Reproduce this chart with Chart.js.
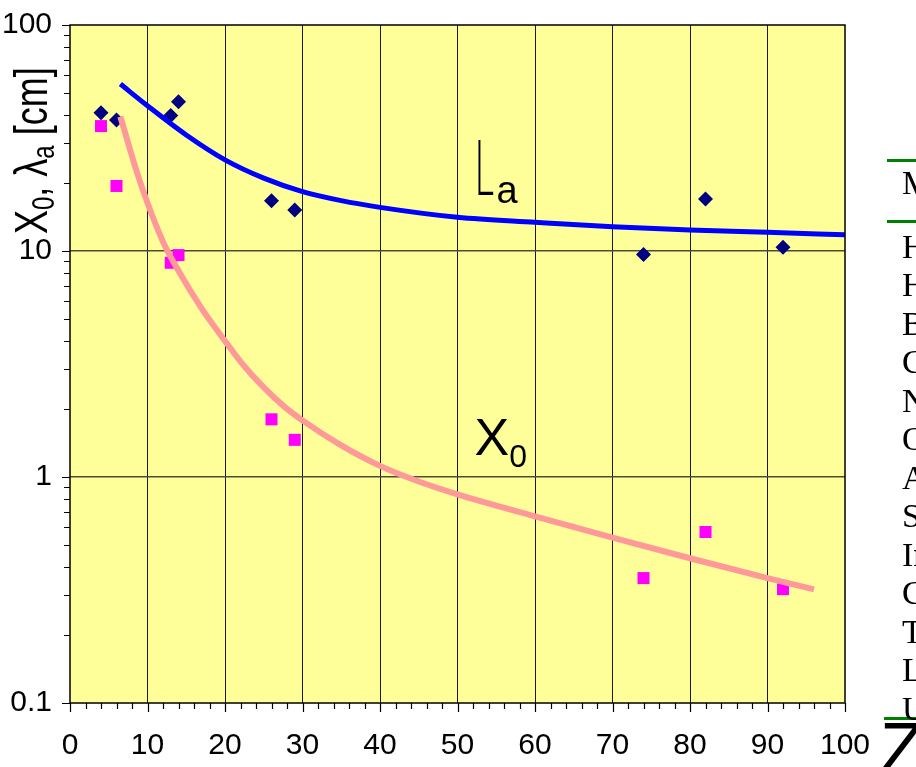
<!DOCTYPE html>
<html>
<head>
<meta charset="utf-8">
<script src="https://cdn.jsdelivr.net/npm/chart.js@4.4.1/dist/chart.umd.min.js"></script>
<style>
  html, body { margin: 0; padding: 0; background: #ffffff; }
  #wrap { width: 916px; height: 767px; position: relative; overflow: hidden; }
</style>
</head>
<body>
<div id="wrap"><canvas id="chart" width="916" height="767"></canvas></div>
<script>
// Atomic number of each absorber
const elementZ = [4, 6, 13, 14, 26, 29, 74, 82, 92];
// Nuclear absorption length lambda_a [cm]
const absorptionLength = [40.9, 38.0, 39.8, 45.8, 16.7, 15.2, 9.66, 17.0, 10.4];
// Radiation length X0 [cm]
const radiationLength = [35.7, 19.4, 8.87, 9.59, 1.80, 1.46, 0.357, 0.571, 0.319];

// Smooth trend curves
const absorptionFitZ = [6.5, 10, 15, 20, 25, 30, 35, 40, 50, 60, 70, 80, 90, 100];
const absorptionFit = [54.8, 43.9, 32.6, 25.3, 21.0, 18.3, 16.7, 15.6, 14.1, 13.4, 12.8, 12.4, 12.1, 11.8];
const radiationFitZ = [6.5, 8.6, 10, 12, 14, 17, 20, 22.5, 25, 27.5, 30, 35, 40, 45, 50, 60, 70, 80, 90, 96];
const radiationFit = [39.3, 22.5, 16.3, 11.0, 8.17, 5.56, 4.0, 3.09, 2.49, 2.07, 1.78, 1.38, 1.12, 0.955, 0.838, 0.670, 0.539, 0.437, 0.357, 0.318];

// Axis ticks
const xTickValues = [0, 10, 20, 30, 40, 50, 60, 70, 80, 90, 100];
const yTickValues = [0.1, 1, 10, 100];
const yTickLabels = ['0.1', '1', '10', '100'];

// Material column at the right edge
const tableHeader = 'M';
const tableRows = ['H', 'H', 'B', 'C', 'N', 'O', 'A', 'S', 'In', 'C', 'T', 'L', 'U'];

const SANS = "'Liberation Sans Narrow', 'Arial Narrow', 'Liberation Sans', Arial, sans-serif";
const SANS_W = "'Liberation Sans', Arial, sans-serif";
const SERIF = "'Liberation Serif', 'Times New Roman', serif";

function pts(xs, ys) { return xs.map((x, i) => ({ x: x, y: ys[i] })); }

function drawRuns(ctx, runs) {
  let x = 0;
  runs.forEach(r => {
    ctx.font = r.font;
    ctx.fillText(r.text, x, r.dy || 0);
    x += ctx.measureText(r.text).width;
  });
}

const decorations = {
  id: 'decorations',
  beforeDraw(chart) {
    const { ctx, chartArea: a } = chart;
    ctx.save();
    ctx.fillStyle = '#ffff99';
    ctx.fillRect(a.left, a.top, a.right - a.left, a.bottom - a.top);
    ctx.restore();
  },
  afterDraw(chart) {
    const { ctx, chartArea: a } = chart;
    const xs = chart.scales.x, ys = chart.scales.y;
    ctx.save();

    // plot frame
    ctx.strokeStyle = '#000000';
    ctx.lineWidth = 1.5;
    ctx.strokeRect(a.left, a.top, a.right - a.left, a.bottom - a.top);

    // x tick marks: long at every 10, short at every 2
    ctx.lineWidth = 1.2;
    ctx.beginPath();
    for (let v = 0; v <= 100; v += 2) {
      const px = Math.round(xs.getPixelForValue(v)) + 0.5;
      const len = (v % 10 === 0) ? 9 : 6;
      ctx.moveTo(px, a.bottom);
      ctx.lineTo(px, a.bottom + len);
    }
    // y tick marks at each decade step 1..9
    for (let d = 0.1; d < 100; d *= 10) {
      for (let k = 1; k <= 10; k++) {
        const v = d * k;
        const py = Math.round(ys.getPixelForValue(v)) + 0.5;
        const len = (k === 1 || k === 10) ? 8 : 6;
        ctx.moveTo(a.left - len, py);
        ctx.lineTo(a.left, py);
      }
    }
    ctx.stroke();

    // y axis title with subscripts, rotated
    ctx.fillStyle = '#000000';
    ctx.textBaseline = 'alphabetic';
    ctx.textAlign = 'left';
    ctx.save();
    ctx.translate(47, 234);
    ctx.rotate(-Math.PI / 2);
    ctx.scale(1, 1.3);
    drawRuns(ctx, [
      { text: 'X', font: '36px ' + SANS_W },
      { text: '0', font: '24px ' + SANS_W, dy: 5 },
      { text: ', \u03bb', font: '36px ' + SANS_W },
      { text: 'a', font: '24px ' + SANS_W, dy: 5 },
      { text: ' [cm]', font: '36px ' + SANS_W }
    ]);
    ctx.restore();

    // curve labels inside the plot
    ctx.save();
    ctx.translate(xs.getPixelForValue(52.2), ys.getPixelForValue(1.25));
    drawRuns(ctx, [
      { text: 'X', font: '52px ' + SANS_W },
      { text: '0', font: '32px ' + SANS_W, dy: 12 }
    ]);
    ctx.restore();

    ctx.save();
    ctx.translate(xs.getPixelForValue(52.2), ys.getPixelForValue(17.7));
    ctx.save();
    ctx.scale(0.5, 1);
    ctx.font = '300 76px Lato, ' + SANS_W;
    ctx.fillText('L', 0, 0);
    ctx.restore();
    ctx.font = '38px ' + SANS_W;
    ctx.fillText('a', 22, 8);
    ctx.restore();

    // material column (clipped by the page edge)
    ctx.fillStyle = '#008000';
    ctx.fillRect(887, 159, 40, 3);
    ctx.fillRect(887, 220, 40, 3);
    ctx.fillRect(884, 717, 40, 3);
    ctx.fillStyle = '#000000';
    ctx.font = '34px ' + SERIF;
    ctx.fillText(tableHeader, 902, 194);
    tableRows.forEach((t, i) => {
      ctx.fillText(t, 902, 246 + i * 38.5 + 11.5);
    });

    // x axis title
    ctx.font = '72px ' + SANS_W;
    ctx.fillText('Z', 880, 773);

    ctx.restore();
  }
};

new Chart(document.getElementById('chart'), {
  type: 'scatter',
  data: {
    datasets: [
      {
        label: 'lambda_a fit',
        data: pts(absorptionFitZ, absorptionFit),
        showLine: true,
        borderColor: '#0000ff',
        borderWidth: 5,
        pointRadius: 0,
        cubicInterpolationMode: 'monotone',
        fill: false
      },
      {
        label: 'X0 fit',
        data: pts(radiationFitZ, radiationFit),
        showLine: true,
        borderColor: '#ff9999',
        borderWidth: 6,
        pointRadius: 0,
        cubicInterpolationMode: 'monotone',
        fill: false
      },
      {
        label: 'lambda_a',
        data: pts(elementZ, absorptionLength),
        pointStyle: 'rectRot',
        pointRadius: 7.5,
        backgroundColor: '#000080',
        borderColor: '#000080',
        borderWidth: 0
      },
      {
        label: 'X0',
        data: pts(elementZ, radiationLength),
        pointStyle: 'rect',
        pointRadius: 8.5,
        backgroundColor: '#ff00ff',
        borderColor: '#ff00ff',
        borderWidth: 0
      }
    ]
  },
  options: {
    responsive: false,
    animation: false,
    devicePixelRatio: 1,
    layout: { padding: { top: 25, right: 71, left: 0, bottom: 0 } },
    plugins: { legend: { display: false }, title: { display: false }, tooltip: { enabled: false } },
    scales: {
      x: {
        type: 'linear',
        min: 0,
        max: 100,
        afterBuildTicks(scale) { scale.ticks = xTickValues.map(v => ({ value: v })); },
        afterFit(scale) {
          scale.height = 64;
          scale.paddingLeft = 0; scale.paddingRight = 0;
        },
        border: { display: false },
        grid: {
          drawTicks: false,
          color: (c) => (c.tick && c.tick.value > 0 && c.tick.value < 100) ? '#1a1a1a' : 'rgba(0,0,0,0)',
          lineWidth: 1
        },
        ticks: {
          color: '#000000',
          padding: 25,
          maxRotation: 0,
          autoSkip: false,
          font: { family: SANS, size: 30 },
          callback: (v) => String(v)
        }
      },
      y: {
        type: 'logarithmic',
        min: 0.1,
        max: 100,
        afterBuildTicks(scale) { scale.ticks = yTickValues.map(v => ({ value: v })); },
        afterFit(scale) {
          scale.width = 70;
          scale.paddingTop = 0; scale.paddingBottom = 0;
        },
        border: { display: false },
        grid: {
          drawTicks: false,
          color: (c) => (c.tick && c.tick.value > 0.1 && c.tick.value < 100) ? '#4d4d33' : 'rgba(0,0,0,0)',
          lineWidth: 1.5
        },
        ticks: {
          color: '#000000',
          padding: 18,
          autoSkip: false,
          font: { family: SANS, size: 30 },
          callback: (v) => {
            const i = yTickValues.indexOf(v);
            return i >= 0 ? yTickLabels[i] : '';
          }
        }
      }
    }
  },
  plugins: [decorations]
});
</script>
</body>
</html>
